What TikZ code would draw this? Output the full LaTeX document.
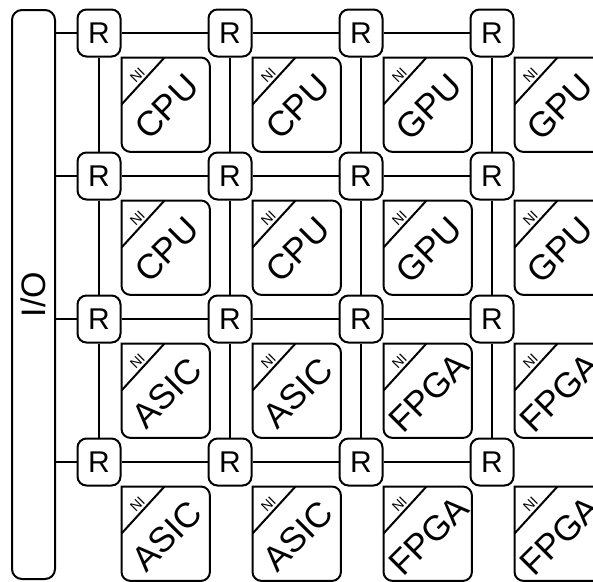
\documentclass[tikz,border=0pt]{standalone}
\usepackage{fontspec}
\setmainfont{Liberation Sans}
\usetikzlibrary{positioning}

\tikzset{
  wire/.style={line width=2pt},
  router/.style={draw,line width=2pt,rounded corners=9pt,minimum width=43pt,minimum height=47pt,inner sep=0pt,fill=white,font=\fontsize{30}{30}\selectfont},
  tile/.style={minimum width=88pt,minimum height=94pt,inner sep=0pt,anchor=north west},
  tilelab/.style={rotate=45,inner sep=0pt,font=\fontsize{35}{35}\selectfont},
  nilab/.style={rotate=45,inner sep=0pt,font=\fontsize{14}{14}\selectfont},
}

\begin{document}
\begin{tikzpicture}[x=1pt,y=-1pt]
  \clip (0,0) rectangle (593,581);
  % I/O bar
  \node[draw,line width=2pt,rounded corners=10pt,minimum width=43pt,minimum height=569pt,inner sep=0pt] (io) at (33.5,294.5) {};
  \node[rotate=90,font=\fontsize{34}{34}\selectfont] (iolab) at (io) {I/O};
  % routers
  \foreach \i in {1,...,4}
    \foreach \j in {1,...,4}
      \node[router] (r\i\j) at ({99+131*(\j-1)},{33+143*(\i-1)}) {R};
  % links
  \foreach \i in {1,...,4} {
    \draw[wire] (io.east |- r\i1) -- (r\i1);
    \foreach \j/\k in {1/2,2/3,3/4}
      \draw[wire] (r\i\j) -- (r\i\k);
  }
  \foreach \i/\k in {1/2,2/3,3/4}
    \foreach \j in {1,...,4}
      \draw[wire] (r\i\j) -- (r\k\j);
  % tiles with NI corner
  \foreach \i/\la/\lb in {1/CPU/GPU,2/CPU/GPU,3/ASIC/FPGA,4/ASIC/FPGA}
    \foreach \j/\side in {1/a,2/a,3/b,4/b} {
      \node[tile] (t\i\j) at (r\i\j.south east) {};
      \draw[wire,rounded corners=9pt,line cap=rect] (t\i\j.north west) -- (t\i\j.north east)
        -- (t\i\j.south east) -- (t\i\j.south west) -- (t\i\j.north west);
      \draw[wire] ([yshift=-47pt]t\i\j.north west) -- ([xshift=43pt]t\i\j.north west);
      \node[nilab] (ni\i\j) at ([xshift=16pt,yshift=-18pt]t\i\j.north west) {NI};
      \if a\side
        \node[tilelab] (lab\i\j) at ([xshift=1pt,yshift=-2pt]t\i\j.center) {\la};
      \else
        \node[tilelab] (lab\i\j) at ([xshift=1pt,yshift=-2pt]t\i\j.center) {\lb};
      \fi
    }
\end{tikzpicture}
\end{document}
